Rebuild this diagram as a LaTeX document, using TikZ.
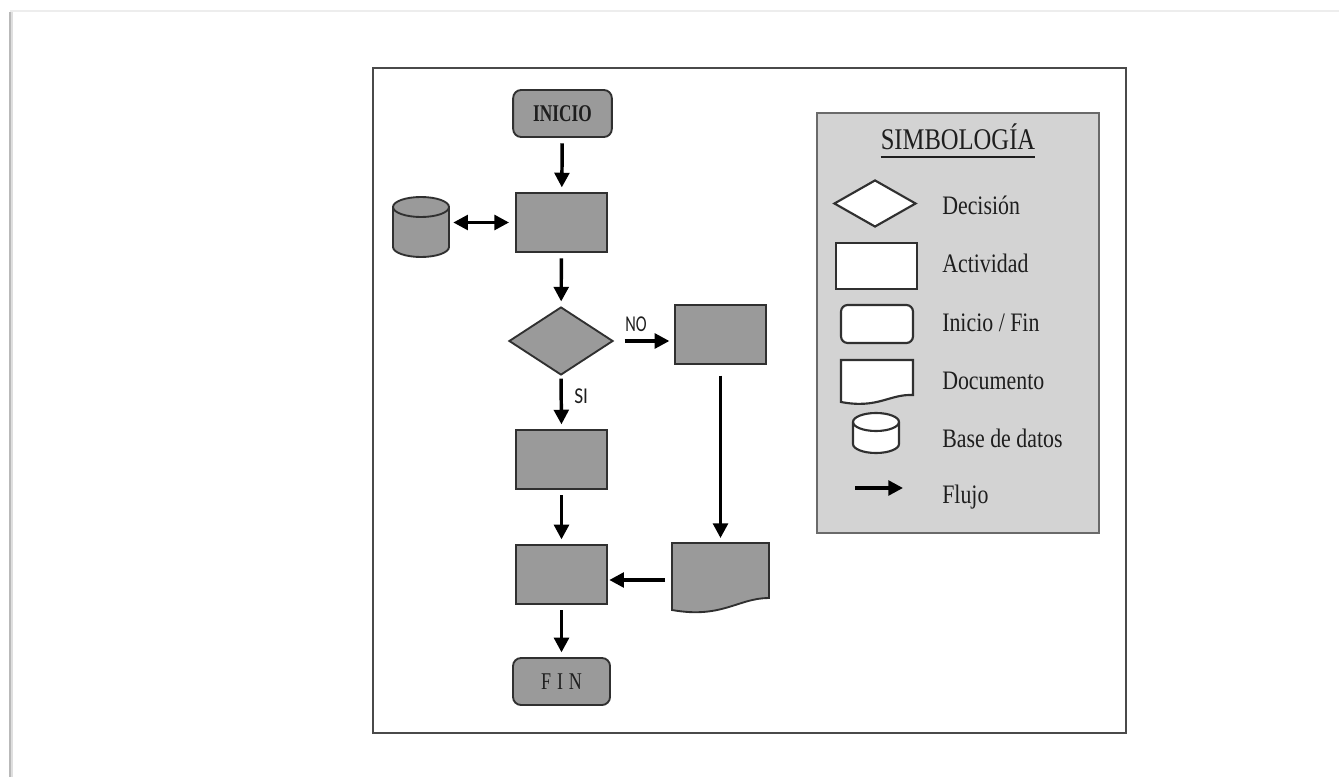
\documentclass[tikz,border=0pt]{standalone}
\usepackage{graphicx}
\usepackage{fontspec}
\setmainfont{Liberation Serif}
\newfontfamily\labelsans{Carlito}
\usetikzlibrary{shapes.geometric,arrows.meta}
% horizontally condensed text
\newcommand{\narrowtxt}[2][0.82]{\scalebox{#1}[1]{#2}}
\definecolor{boxfill}{HTML}{9A9A9A}
\definecolor{edgec}{HTML}{303030}
\definecolor{legfill}{HTML}{D3D3D3}
\definecolor{legedge}{HTML}{6A6A6A}
\definecolor{framec}{HTML}{4A4A4A}
\definecolor{txtc}{HTML}{1E1E1E}
\tikzset{
  tip/.tip={Triangle[length=11pt,width=11pt]},
  flowbox/.style={draw=edgec, fill=boxfill, line width=1.4pt, inner sep=0pt,
    minimum width=68.25pt, minimum height=44.25pt},
  termbox/.style={flowbox, rounded corners=6pt, minimum width=74pt, minimum height=35.25pt,
    text=txtc, font=\fontsize{18}{18}\selectfont},
  decide/.style={diamond, draw=edgec, fill=boxfill, line width=1.4pt, inner sep=0pt,
    minimum width=78pt, minimum height=51pt},
  ghost/.style={draw=none, inner sep=0pt},
  flow/.style={line width=2.6pt, draw=black, -tip, shorten <=4pt, shorten >=3.5pt},
  bothflow/.style={flow, tip-tip},
  legshape/.style={draw=edgec, fill=white, line width=1.6pt, inner sep=0pt},
  legtext/.style={anchor=base west, inner sep=0pt, text=txtc, font=\fontsize{20}{20}\selectfont},
  sidelabel/.style={anchor=base west, inner sep=0pt, text=txtc, font=\labelsans\fontsize{17}{17}\selectfont},
}
\begin{document}
\begin{tikzpicture}[x=0.75pt,y=-0.75pt]
\useasboundingbox[fill=white] (0,0) rectangle (1339,777);

% page edge
\draw[gray!14, line width=1pt] (10,11) -- (1339,11);
\draw[gray!25, line width=2.5pt] (11,12) -- (11,777);
\draw[gray!55, line width=1pt] (10,12) -- (10,777);

% outer frame
\draw[framec, line width=2.2pt] (373,68) rectangle (1126,733);

% ---------- flow chart ----------
\node[termbox] (inicio) at (562.5,113.5) {\narrowtxt[0.72]{\bfseries INICIO}};
\node[flowbox] (act1) at (561.5,222.5) {};
\node[ghost, minimum width=42pt, minimum height=45pt] (db) at (421,227) {};
\node[decide] (dec) at (561,341) {};
\node[flowbox] (actno) at (720.5,334.5) {};
\node[flowbox] (actsi) at (561.5,459.5) {};
\node[flowbox] (act4) at (561.5,574.5) {};
\node[ghost, minimum width=72.75pt, minimum height=55.5pt] (doc) at (720.5,580) {};
\node[termbox, minimum width=72.75pt] (fin) at (561.5,681.5) {\narrowtxt[0.75]{F\,\,I\,\,N}};

% database cylinder
\filldraw[draw=edgec, fill=boxfill, line width=1.4pt]
  (393,207) -- (393,247) arc[start angle=180, end angle=360, x radius=21pt, y radius=7.5pt]
  -- (449,207) arc[start angle=0, end angle=180, x radius=21pt, y radius=7.5pt] -- cycle;
\draw[edgec, line width=1.4pt]
  (393,207) arc[start angle=180, end angle=360, x radius=21pt, y radius=7.5pt];

% document
\filldraw[draw=edgec, fill=boxfill, line width=1.4pt]
  (672,543) -- (769,543) -- (769,598)
  .. controls (738,598) and (722,619) .. (672,610) -- cycle;

% connectors
\draw[flow] (inicio) -- (act1);
\draw[bothflow, shorten <=3pt, shorten >=4.5pt] (db.east |- act1.west) -- (act1.west);
\draw[flow] (act1) -- (dec);
\draw[flow, shorten <=8pt] (dec.east) -- (dec.east -| actno.west);
\draw[flow, shorten <=2pt] (dec.south) -- (actsi.north);
\draw[flow, shorten <=8pt] (actno.south) -- (doc.north);
\draw[flow] (actsi) -- (act4);
\draw[flow, shorten <=5pt, shorten >=1pt] (doc.west) -- (doc.west -| act4.east);
\draw[flow] (act4) -- (fin);

\node[sidelabel] at (625,332) {\narrowtxt[0.72]{NO}};
\node[sidelabel] at (574,403) {\narrowtxt[0.85]{SI}};

% ---------- legend ----------
\draw[legedge, fill=legfill, line width=1.6pt] (817,113) rectangle (1099,533);
\node[anchor=base, inner sep=0pt, text=txtc, font=\fontsize{22.5}{22.5}\selectfont]
  (title) at (958,150) {\narrowtxt{SIMBOLOGÍA}};
\draw[txtc, line width=1.5pt] ([yshift=-5pt]title.base west) -- ([yshift=-5pt]title.base east);

\node[legshape, diamond, minimum width=61.5pt, minimum height=35.25pt] (ldec) at (875,203.5) {};
\node[legshape, minimum width=60.75pt, minimum height=34.5pt] (lact) at (876.5,266) {};
\node[legshape, rounded corners=5pt, minimum width=54pt, minimum height=28.5pt] (lterm) at (877,324) {};
\filldraw[draw=edgec, fill=white, line width=1.6pt]
  (841,360) -- (913,360) -- (913,395)
  .. controls (889,394) and (878,409) .. (841,402) -- cycle;
\filldraw[draw=edgec, fill=white, line width=1.6pt]
  (853,422) -- (853,444) arc[start angle=180, end angle=360, x radius=17.25pt, y radius=6.75pt]
  -- (899,422) arc[start angle=0, end angle=180, x radius=17.25pt, y radius=6.75pt] -- cycle;
\draw[edgec, line width=1.6pt]
  (853,422) arc[start angle=180, end angle=360, x radius=17.25pt, y radius=6.75pt];
\coordinate (lfa) at (855,488);
\coordinate (lfb) at (903,488);
\draw[flow, shorten <=0pt, shorten >=0pt] (lfa) -- (lfb);

\node[legtext] at (942,215) {\narrowtxt{Decisión}};
\node[legtext] at (942,273) {\narrowtxt{Actividad}};
\node[legtext] at (942,332) {\narrowtxt{Inicio / Fin}};
\node[legtext] at (942,389) {\narrowtxt{Documento}};
\node[legtext] at (942,447) {\narrowtxt{Base de datos}};
\node[legtext] at (942,503) {\narrowtxt{Flujo}};
\end{tikzpicture}
\end{document}
